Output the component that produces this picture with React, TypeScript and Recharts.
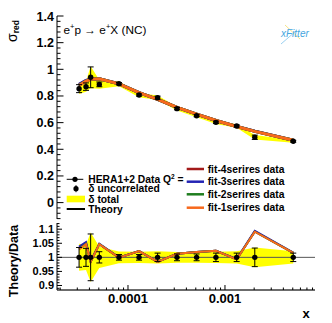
import { Area, ComposedChart, ErrorBar, Line, ReferenceLine, Scatter, XAxis, YAxis } from "recharts";

// x (Bjorken x), reduced cross section and relative errors
const xValues = [3.13e-5, 3.69e-5, 4.12e-5, 5.06e-5, 8.07e-5, 1.3e-4, 2.02e-4, 3.2e-4, 5.1e-4, 8.07e-4, 1.32e-3, 2.03e-3, 5.06e-3];
const sigmaRed = [0.855, 0.87, 0.94, 0.887, 0.892, 0.807, 0.787, 0.705, 0.652, 0.602, 0.575, 0.49, 0.46];
const uncorrErr = [0.035, 0.032, 0.083, 0.02, 0.01, 0.01, 0.015, 0.012, 0.012, 0.015, 0.015, 0.033, 0.015];
const totalErr = [0.048, 0.045, 0.088, 0.038, 0.021, 0.02, 0.022, 0.019, 0.019, 0.02, 0.022, 0.035, 0.022];

// theory / data for each fit
const fit4Ratio = [1.035, 1.051, 0.985, 1.047, 0.999, 1.022, 0.984, 1.013, 1.019, 1.023, 0.993, 1.092, 1.016];
const fit3Ratio = [1.038, 1.054, 0.986, 1.048, 1.0, 1.022, 0.985, 1.013, 1.019, 1.023, 0.994, 1.094, 1.017];
const fit2Ratio = [1.03, 1.048, 0.984, 1.047, 0.999, 1.022, 0.984, 1.013, 1.019, 1.023, 0.993, 1.091, 1.016];
const fit1Ratio = [1.028, 1.047, 0.984, 1.047, 0.999, 1.022, 0.984, 1.013, 1.019, 1.023, 0.993, 1.091, 1.016];

const mainYLabels = [0, 0.2, 0.4, 0.6, 0.8, 1, 1.2, 1.4];
const ratioYLabels = [0.9, 0.95, 1, 1.05, 1.1];
const xLabels = [0.0001, 0.001];

const fits = [
  { key: "fit4", name: "fit-4serires data", color: "#a31a1a", ratio: fit4Ratio },
  { key: "fit3", name: "fit-3serires data", color: "#2323b4", ratio: fit3Ratio },
  { key: "fit2", name: "fit-2serires data", color: "#1e7d1e", ratio: fit2Ratio },
  { key: "fit1", name: "fit-1serires data", color: "#f7691c", ratio: fit1Ratio },
];

const xDomain = [1.853e-5, 8.48e-3];
const mainDomain = [-0.123, 1.4];
const ratioDomain = [0.884, 1.122];
const FONT = "'Liberation Sans', Arial, Helvetica, sans-serif";
const FRAME = "#6b6b6b";

const mainRows = xValues.map((x, i) => {
  const row: any = {
    x,
    sigma: sigmaRed[i],
    err: sigmaRed[i] * uncorrErr[i],
    band: [sigmaRed[i] * (1 - totalErr[i]), sigmaRed[i] * (1 + totalErr[i])],
  };
  fits.forEach((f) => (row[f.key] = sigmaRed[i] * f.ratio[i]));
  return row;
});

const ratioRows = xValues.map((x, i) => {
  const row: any = { x, one: 1, err: uncorrErr[i], band: [1 - totalErr[i], 1 + totalErr[i]] };
  fits.forEach((f) => (row[f.key] = f.ratio[i]));
  return row;
});

const mainYTicks: number[] = [];
for (let k = -3; k <= 35; k++) mainYTicks.push(Math.round(k * 4) / 100);
const ratioYTicks: number[] = [];
for (let k = 89; k <= 112; k++) ratioYTicks.push(k / 100);
const xTicks: number[] = [];
[1e-5, 1e-4, 1e-3].forEach((d) => {
  for (let m = 1; m <= 9; m++) {
    const v = m * d;
    if (v >= xDomain[0] && v <= xDomain[1]) xTicks.push(v);
  }
});

const near = (list: number[], v: number) => list.some((l) => Math.abs(v / l - 1) < 1e-6 || Math.abs(v - l) < 1e-9);

function yTick(props: any, labels: number[], major: number, minor: number, size: number) {
  const { x, y, payload } = props;
  const isMajor = near(labels, payload.value);
  return (
    <g>
      <line x1={x} x2={x + (isMajor ? major : minor)} y1={y} y2={y} stroke="#000" />
      {isMajor && (
        <text x={x - 3} y={y} dy="0.36em" textAnchor="end" fontFamily={FONT} fontWeight="bold" fontSize={size} fill="#000">
          {String(payload.value)}
        </text>
      )}
    </g>
  );
}

function xTick(props: any, showLabels: boolean, major: number, minor: number) {
  const { x, y, payload } = props;
  const isMajor = near(xLabels, payload.value);
  return (
    <g>
      <line x1={x} x2={x} y1={y} y2={y - (isMajor ? major : minor)} stroke="#000" />
      {showLabels && isMajor && (
        <text x={x} y={y + 13} textAnchor="middle" fontFamily={FONT} fontWeight="bold" fontSize={13} fill="#000">
          {String(payload.value)}
        </text>
      )}
    </g>
  );
}

const dot = (props: any) => <circle cx={props.cx} cy={props.cy} r={2.7} fill="#000" />;

function MainPanel() {
  return (
    <ComposedChart width={332} height={222} data={mainRows} margin={{ top: 16, right: 17, bottom: 3, left: 0 }}>
      <XAxis
        dataKey="x"
        type="number"
        scale="log"
        domain={xDomain}
        allowDataOverflow
        ticks={xTicks}
        interval={0}
        height={0}
        tickSize={0}
        tickMargin={0}
        axisLine={{ stroke: FRAME, strokeWidth: 2 }}
        tick={(p: any) => xTick(p, false, 5, 2.5)}
      />
      <XAxis xAxisId="top" orientation="top" dataKey="x" type="number" scale="log" domain={xDomain} allowDataOverflow height={0} tick={false} tickLine={false} axisLine={{ stroke: FRAME, strokeWidth: 2 }} />
      <YAxis
        type="number"
        domain={mainDomain}
        allowDataOverflow
        ticks={mainYTicks}
        interval={0}
        width={57}
        tickSize={0}
        tickMargin={0}
        axisLine={{ stroke: "#000" }}
        tick={(p: any) => yTick(p, mainYLabels, 6.5, 3.5, 12.5)}
      />
      <YAxis yAxisId="right" orientation="right" type="number" domain={mainDomain} allowDataOverflow width={0} tick={false} tickLine={false} axisLine={{ stroke: FRAME, strokeWidth: 2 }} />
      <Area dataKey="band" type="linear" fill="#ffff00" fillOpacity={1} stroke="none" isAnimationActive={false} />
      {fits.map((f) => (
        <Line key={f.key} dataKey={f.key} type="linear" stroke={f.color} strokeWidth={3} dot={false} isAnimationActive={false} />
      ))}
      <Scatter dataKey="sigma" shape={dot} isAnimationActive={false}>
        <ErrorBar dataKey="err" direction="y" width={3} stroke="#000" strokeWidth={1} isAnimationActive={false} />
      </Scatter>
    </ComposedChart>
  );
}

function RatioPanel() {
  return (
    <ComposedChart width={332} height={101} data={ratioRows} margin={{ top: 1, right: 17, bottom: 0, left: 0 }}>
      <XAxis
        dataKey="x"
        type="number"
        scale="log"
        domain={xDomain}
        allowDataOverflow
        ticks={xTicks}
        interval={0}
        height={33}
        tickSize={0}
        tickMargin={0}
        axisLine={{ stroke: FRAME, strokeWidth: 2 }}
        tick={(p: any) => xTick(p, true, 5, 2.5)}
      />
      <XAxis xAxisId="top" orientation="top" dataKey="x" type="number" scale="log" domain={xDomain} allowDataOverflow height={0} tick={false} tickLine={false} axisLine={{ stroke: FRAME, strokeWidth: 2 }} />
      <YAxis
        type="number"
        domain={ratioDomain}
        allowDataOverflow
        ticks={ratioYTicks}
        interval={0}
        width={57}
        tickSize={0}
        tickMargin={0}
        axisLine={{ stroke: "#000" }}
        tick={(p: any) => yTick(p, ratioYLabels, 5, 2.5, 11)}
      />
      <YAxis yAxisId="right" orientation="right" type="number" domain={ratioDomain} allowDataOverflow width={0} tick={false} tickLine={false} axisLine={{ stroke: FRAME, strokeWidth: 2 }} />
      <Area dataKey="band" type="linear" fill="#ffff00" fillOpacity={1} stroke="none" isAnimationActive={false} />
      <ReferenceLine y={1} stroke="#555" strokeWidth={1} />
      {fits.map((f) => (
        <Line key={f.key} dataKey={f.key} type="linear" stroke={f.color} strokeWidth={2} dot={false} isAnimationActive={false} />
      ))}
      <Scatter dataKey="one" shape={dot} isAnimationActive={false}>
        <ErrorBar dataKey="err" direction="y" width={3} stroke="#000" strokeWidth={1} isAnimationActive={false} />
      </Scatter>
    </ComposedChart>
  );
}

function Labels() {
  const t = { fontFamily: FONT, fontWeight: "bold" as const, fontSize: 10.3, fill: "#000" };
  const leftRows = [179.3, 188.7, 199, 209];
  const rightRows = [169, 181.7, 194.3, 207.7];
  return (
    <svg width={332} height={323} style={{ position: "absolute", left: 0, top: 0, pointerEvents: "none" }}>
      {/* axis titles */}
      <text x={17} y={42} transform="rotate(-90 17 42)" fontFamily={FONT} fontSize={14} fill="#000">
        σ<tspan fontSize={8.5} fontWeight="bold" dy={2}>red</tspan>
      </text>
      <text x={18} y={261} transform="rotate(-90 18 261)" textAnchor="middle" fontFamily={FONT} fontWeight="bold" fontSize={12.5} fill="#000">
        Theory/Data
      </text>
      <text x={306} y={318} textAnchor="middle" fontFamily={FONT} fontWeight="bold" fontSize={13} fill="#000">
        x
      </text>
      {/* process label */}
      <text x={63.5} y={33.5} fontFamily={FONT} fontSize={11.8} fill="#000">
        e<tspan fontSize={7.5} dy={-4.5}>+</tspan>
        <tspan dy={4.5}>p → e</tspan>
        <tspan fontSize={7.5} dy={-4.5}>+</tspan>
        <tspan dy={4.5}>X (NC)</tspan>
      </text>
      {/* xFitter logo */}
      <line x1={281} y1={44} x2={296} y2={31} stroke="#7fc4ee" strokeWidth={0.8} />
      <line x1={285} y1={25} x2={300} y2={39} stroke="#f3dc6a" strokeWidth={0.8} />
      <text x={281} y={37} fontFamily={FONT} fontStyle="italic" fontSize={10} fill="#45a6e0">
        xFitter
      </text>
      {/* left legend */}
      <line x1={66.7} x2={83.3} y1={leftRows[0]} y2={leftRows[0]} stroke="#000" />
      <circle cx={75} cy={leftRows[0]} r={2.6} fill="#000" />
      <text x={88.3} y={leftRows[0] + 3.6} {...t}>
        HERA1+2 Data Q<tspan fontSize={6.5} dy={-4}>2</tspan>
        <tspan dy={4}> =</tspan>
      </text>
      <circle cx={76} cy={leftRows[1]} r={2.6} fill="#000" />
      <line x1={76} x2={76} y1={leftRows[1] - 3.5} y2={leftRows[1] + 3.5} stroke="#000" />
      <text x={88.3} y={leftRows[1] + 3.6} {...t}>δ uncorrelated</text>
      <rect x={66.7} y={leftRows[2] - 3.3} width={18.3} height={6.6} fill="#ffff00" />
      <text x={88.3} y={leftRows[2] + 3.6} {...t}>δ total</text>
      <line x1={66.7} x2={85} y1={leftRows[3]} y2={leftRows[3]} stroke="#000" strokeWidth={2} />
      <text x={88.3} y={leftRows[3] + 3.6} {...t}>Theory</text>
      {/* right legend */}
      {fits.map((f, i) => (
        <g key={f.key}>
          <line x1={186.7} x2={204} y1={rightRows[i]} y2={rightRows[i]} stroke={f.color} strokeWidth={2.5} />
          <text x={207.7} y={rightRows[i] + 3.6} {...t}>
            {f.name}
          </text>
        </g>
      ))}
    </svg>
  );
}

export default function App() {
  return (
    <div style={{ position: "absolute", left: 0, top: 0, width: 332, height: 323, background: "#fff" }}>
      <div style={{ position: "absolute", left: 0, top: 0 }}>
        <MainPanel />
      </div>
      <div style={{ position: "absolute", left: 0, top: 222 }}>
        <RatioPanel />
      </div>
      <Labels />
    </div>
  );
}
